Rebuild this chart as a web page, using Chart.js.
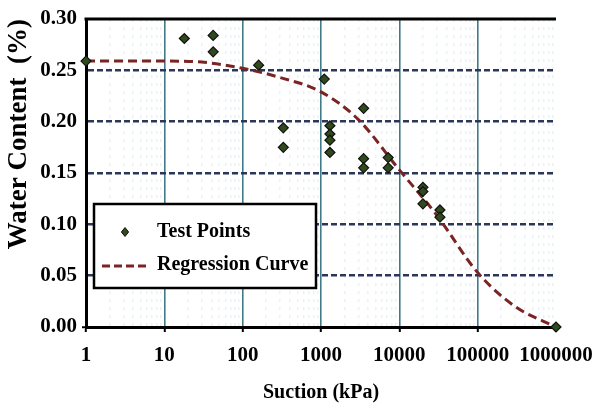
<!DOCTYPE html>
<html><head><meta charset="utf-8">
<script src="https://cdn.jsdelivr.net/npm/chart.js@4/dist/chart.umd.min.js"></script>
<style>html,body{margin:0;padding:0;background:#fff}#wrap{width:596px;height:410px;position:relative}</style>
</head><body><div id="wrap"><canvas id="c" width="596" height="410"></canvas></div>
<script>
// ---- data ----
const testSuction = [1, 18, 42, 42, 160, 330, 330, 1100, 1300, 1300, 1300, 1300, 3500, 3500, 3500, 7200, 7200, 20000, 20000, 20000, 33000, 33000, 1000000];
const testWater   = [0.259, 0.281, 0.284, 0.268, 0.255, 0.194, 0.175, 0.2415, 0.196, 0.188, 0.182, 0.170, 0.213, 0.164, 0.155, 0.165, 0.155, 0.136, 0.132, 0.120, 0.114, 0.107, 0.0];
const curveSuction = [1, 10, 30, 100, 300, 1000, 3000, 10000, 30000, 100000, 300000, 1000000];
const curveWater   = [0.259, 0.259, 0.258, 0.252, 0.243, 0.229, 0.202, 0.153, 0.109, 0.053, 0.020, 0.0];
const xTickLabels = ['1','10','100','1000','10000','100000','1000000'];
const yTickValues = [0, 0.05, 0.10, 0.15, 0.20, 0.25, 0.30];
const seriesNames = ['Test Points', 'Regression Curve'];

const FONT = "'Liberation Serif', 'Times New Roman', serif";
const isMajor = v => Math.abs(Math.log10(v) - Math.round(Math.log10(v))) < 1e-9;

const topBorder = {
  id: 'topBorder',
  afterDatasetsDraw(chart) {
    const {ctx, chartArea: a} = chart;
    ctx.save();
    ctx.strokeStyle = '#000'; ctx.lineWidth = 3;
    ctx.beginPath(); ctx.moveTo(a.left - 1.5, a.top); ctx.lineTo(a.right, a.top); ctx.stroke();
    ctx.restore();
  }
};

const legendBox = {
  id: 'legendBox',
  afterDraw(chart) {
    const ctx = chart.ctx;
    const x = 94, y = 204, w = 222, h = 84;
    ctx.save();
    ctx.fillStyle = '#fff'; ctx.fillRect(x, y, w, h);
    ctx.strokeStyle = '#000'; ctx.lineWidth = 2.5; ctx.strokeRect(x, y, w, h);
    const ds0 = chart.data.datasets[0], ds1 = chart.data.datasets[1];
    ctx.fillStyle = ds0.backgroundColor; ctx.strokeStyle = ds0.borderColor; ctx.lineWidth = 1;
    ctx.beginPath(); const mx = 125, my = 232, r = 4.5;
    ctx.moveTo(mx, my - r); ctx.lineTo(mx + r*0.8, my); ctx.lineTo(mx, my + r); ctx.lineTo(mx - r*0.8, my); ctx.closePath();
    ctx.fill(); ctx.stroke();
    ctx.strokeStyle = ds1.borderColor; ctx.lineWidth = 3; ctx.setLineDash([8, 4]);
    ctx.beginPath(); ctx.moveTo(102, 266); ctx.lineTo(150, 266); ctx.stroke();
    ctx.setLineDash([]);
    ctx.fillStyle = '#000'; ctx.font = 'bold 20px ' + FONT; ctx.textBaseline = 'middle'; ctx.textAlign = 'left';
    ctx.fillText(ds0.label, 157, 232);
    ctx.fillText(ds1.label, 157, 265);
    ctx.restore();
  }
};

new Chart(document.getElementById('c'), {
  data: {
    datasets: [
      { type: 'scatter', label: seriesNames[0],
        data: testSuction.map((s, i) => ({x: s, y: testWater[i]})),
        pointStyle: 'rectRot', pointRadius: 5, backgroundColor: '#2f4a1c', borderColor: '#111', borderWidth: 1.2, clip: false },
      { type: 'line', label: seriesNames[1],
        data: curveSuction.map((s, i) => ({x: s, y: curveWater[i]})),
        borderColor: '#7a2424', borderWidth: 3, borderDash: [9, 5], pointRadius: 0, fill: false,
        cubicInterpolationMode: 'monotone' }
    ]
  },
  plugins: [topBorder, legendBox],
  options: {
    responsive: false, animation: false, devicePixelRatio: 1,
    layout: { padding: { top: 19, right: 40, left: 0, bottom: 0 } },
    plugins: { legend: { display: false }, tooltip: { enabled: false } },
    scales: {
      x: {
        type: 'logarithmic', min: 1, max: 1000000,
        afterBuildTicks(scale) {
          const t = [];
          for (let k = 0; k <= 6; k++) for (let m = 1; m <= 9; m++) {
            const v = m * Math.pow(10, k); if (v <= 1000000) t.push({value: v});
          }
          scale.ticks = t;
        },
        afterFit(scale) { scale.height = 83; scale.paddingRight = 0; scale.paddingLeft = 0; },
        ticks: {
          autoSkip: false, maxRotation: 0, padding: 11, color: '#000',
          font: { family: FONT, size: 21, weight: 'bold' },
          callback(v) { if (!isMajor(v)) return ''; return xTickLabels[Math.round(Math.log10(v))]; }
        },
        grid: {
          color: c => {
            if (!c.tick) return 'rgba(0,0,0,0)';
            const v = c.tick.value;
            if (v === 1 || v === 1000000) return 'rgba(0,0,0,0)';
            return isMajor(v) ? 'rgba(55,115,130,0.95)' : 'rgba(150,200,215,0.22)';
          },
          lineWidth: c => (c.tick && isMajor(c.tick.value)) ? 1.6 : 1.5,
          tickColor: c => (c.tick && isMajor(c.tick.value)) ? '#000' : 'rgba(0,0,0,0)',
          tickLength: 5, tickWidth: 2, tickBorderDash: []
        },
        border: { display: true, color: '#000', width: 3,
          dash: c => (c.tick && !isMajor(c.tick.value)) ? [3, 5] : [] },
        title: { display: true, text: 'Suction (kPa)', color: '#000',
          font: { family: FONT, size: 20, weight: 'bold' }, padding: { top: 0, bottom: 5 } }
      },
      y: {
        min: 0, max: 0.30,
        afterBuildTicks(scale) { scale.ticks = yTickValues.map(v => ({value: v})); },
        afterFit(scale) { scale.width = 86; },
        ticks: { padding: 5, color: '#000', font: { family: FONT, size: 21, weight: 'bold' },
          callback: v => v.toFixed(2) },
        grid: {
          color: c => (c.tick && (c.tick.value < 0.001 || c.tick.value > 0.299)) ? 'rgba(0,0,0,0)' : '#2b3659',
          lineWidth: 2.5,
          tickColor: c => (c.tick && c.tick.value < 0.001) ? '#000' : 'rgba(0,0,0,0)',
          tickLength: 4, tickWidth: 2, tickBorderDash: []
        },
        border: { display: true, color: '#000', width: 3, dash: [6, 3] },
        title: { display: true, text: 'Water Content  (%)', align: 'end', color: '#000',
          font: { family: FONT, size: 27, weight: 'bold' }, padding: { top: 3, bottom: 0 } }
      }
    }
  }
});
</script></body></html>
